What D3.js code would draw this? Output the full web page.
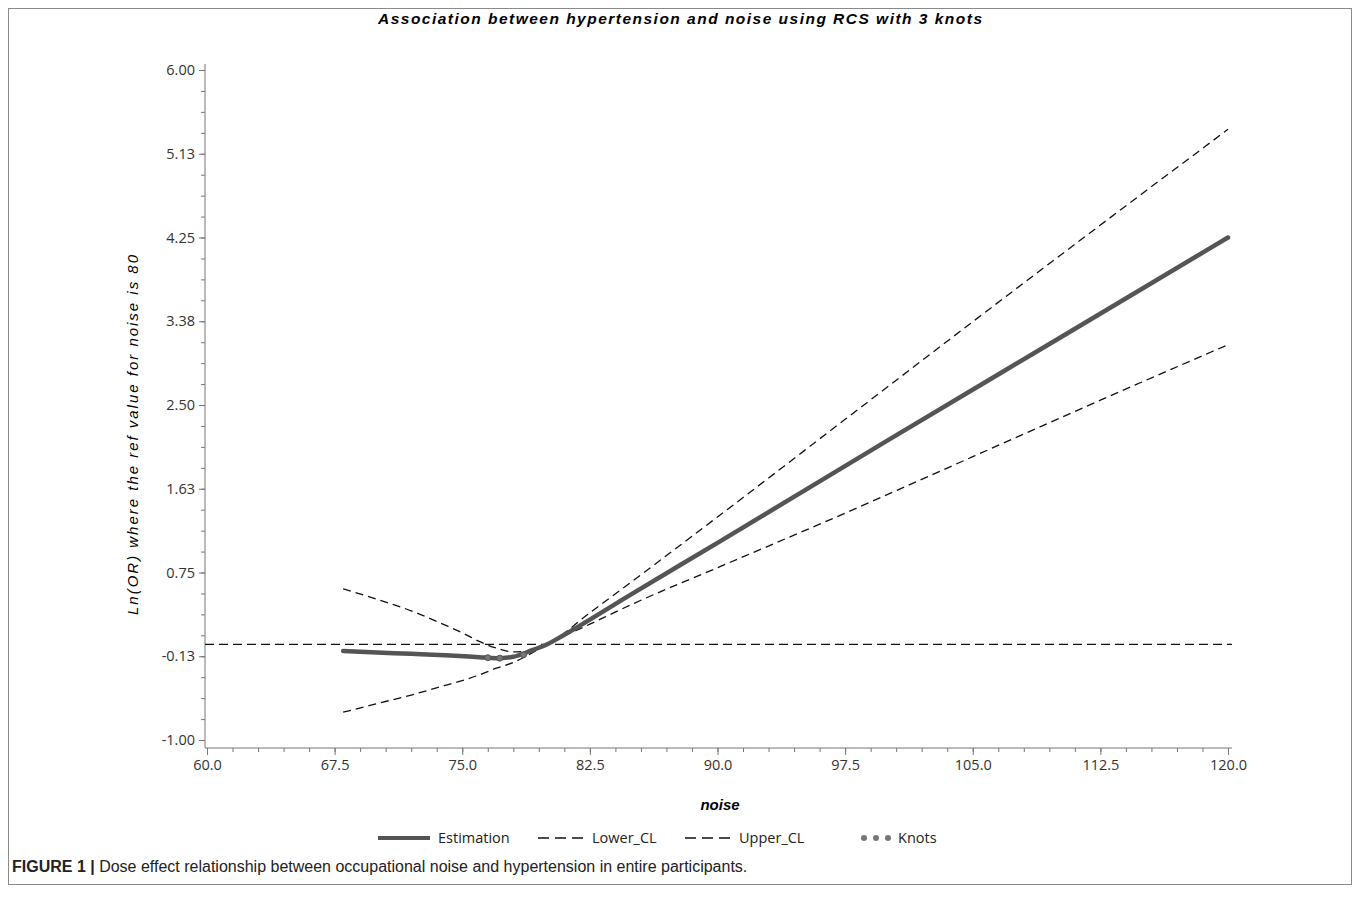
<!DOCTYPE html>
<html><head><meta charset="utf-8">
<script src="https://cdn.jsdelivr.net/npm/d3@7"></script>
<style>
body{margin:0;background:#fff;}
svg{display:block;}
</style></head>
<body>
<svg id="chart" width="1360" height="918"></svg>
<script>
// ---- data ----
const xTicks = [60, 67.5, 75, 82.5, 90, 97.5, 105, 112.5, 120];
const xTickLabels = ["60.0","67.5","75.0","82.5","90.0","97.5","105.0","112.5","120.0"];
const yTicks = [-1, -0.125, 0.75, 1.625, 2.5, 3.375, 4.25, 5.125, 6];
const yTickLabels = ["-1.00","-0.13","0.75","1.63","2.50","3.38","4.25","5.13","6.00"];
const noiseEst = [68, 70, 72, 74, 76, 77, 78, 79, 80, 81, 85, 90, 100, 110, 120];
const estimation = [-0.07, -0.085, -0.10, -0.115, -0.135, -0.145, -0.13, -0.07, 0, 0.10, 0.53, 1.06, 2.13, 3.19, 4.25];
const noiseCL = [68, 70, 72, 74, 75, 76, 77, 78, 79, 80, 82.5, 85, 90, 97.5, 105, 112.5, 120];
const upperCL = [0.58, 0.47, 0.35, 0.20, 0.12, 0.03, -0.04, -0.08, -0.07, 0, 0.33, 0.66, 1.33, 2.35, 3.37, 4.38, 5.38];
const lowerCL = [-0.71, -0.62, -0.53, -0.43, -0.38, -0.32, -0.25, -0.19, -0.10, 0, 0.21, 0.42, 0.80, 1.37, 1.96, 2.55, 3.13];
const knotX = [76.5, 77.2, 78.6];
const knotY = [-0.14, -0.145, -0.11];
const refValue = 0;

const svg = d3.select("#chart");
const x = d3.scaleLinear().domain([60, 120]).range([207, 1228]);
const y = d3.scaleLinear().domain([-1, 6]).range([740, 70]);

// frame
svg.append("rect").attr("x", 8.5).attr("y", 8.5).attr("width", 1343).attr("height", 876)
  .attr("fill", "none").attr("stroke", "#8a8a8a").attr("stroke-width", 1);

// title
svg.append("text").attr("x", 680).attr("y", 24).attr("text-anchor", "middle")
  .attr("font-family", "Liberation Sans, Arial, sans-serif").attr("font-size", 15.5)
  .attr("font-weight", "bold").attr("font-style", "italic")
  .attr("textLength", 604).attr("lengthAdjust", "spacing")
  .text("Association between hypertension and noise using RCS with 3 knots");

const axisColor = "#777";
const tickFont = "Open Sans, DejaVu Sans, sans-serif";

// y axis
const yAxisG = svg.append("g").attr("transform", "translate(205,0)");
const yMinor = d3.range(0, 33).map(i => -1 + i * 0.21875);
yAxisG.append("g").call(d3.axisLeft(y).tickValues(yMinor).tickSize(4).tickFormat(""))
  .call(g => g.select(".domain").remove());
yAxisG.append("g").call(d3.axisLeft(y).tickValues(yTicks).tickSize(6)
    .tickFormat((d, i) => yTickLabels[i]).tickPadding(4))
  .call(g => g.select(".domain").remove());
yAxisG.append("line").attr("x1", 0).attr("x2", 0).attr("y1", 64).attr("y2", 748);
yAxisG.selectAll("line").attr("stroke", axisColor);
yAxisG.selectAll("text").attr("font-family", tickFont).attr("font-size", 14.5).attr("fill", "#333");

// x axis
const xAxisG = svg.append("g").attr("transform", "translate(0,748)");
const xMinor = d3.range(0, 41).map(i => 60 + i * 1.5);
xAxisG.append("g").call(d3.axisBottom(x).tickValues(xMinor).tickSize(4).tickFormat(""))
  .call(g => g.select(".domain").remove());
xAxisG.append("g").call(d3.axisBottom(x).tickValues(xTicks).tickSize(7)
    .tickFormat((d, i) => xTickLabels[i]).tickPadding(5))
  .call(g => g.select(".domain").remove());
xAxisG.append("line").attr("x1", 205).attr("x2", 1232).attr("y1", 0).attr("y2", 0);
xAxisG.selectAll("line").attr("stroke", axisColor);
xAxisG.selectAll("text").attr("font-family", tickFont).attr("font-size", 14.5).attr("fill", "#333");

// axis titles
svg.append("text").attr("transform", "translate(138,435) rotate(-90)").attr("text-anchor", "middle")
  .attr("font-family", "Liberation Sans, Arial, sans-serif").attr("font-size", 15)
  .attr("font-style", "italic").attr("textLength", 360).attr("lengthAdjust", "spacing")
  .text("Ln(OR) where the ref value for noise is 80");
svg.append("text").attr("x", 720).attr("y", 810).attr("text-anchor", "middle")
  .attr("font-family", "Liberation Sans, Arial, sans-serif").attr("font-size", 15)
  .attr("font-weight", "bold").attr("font-style", "italic").text("noise");

// reference line
svg.append("line").attr("x1", 205).attr("x2", 1232).attr("y1", y(refValue)).attr("y2", y(refValue))
  .attr("stroke", "#111").attr("stroke-width", 1.2).attr("stroke-dasharray", "9,5");

const line = d3.line().curve(d3.curveMonotoneX);
const estPts = noiseEst.map((v, i) => [x(v), y(estimation[i])]);
const upPts = noiseCL.map((v, i) => [x(v), y(upperCL[i])]);
const loPts = noiseCL.map((v, i) => [x(v), y(lowerCL[i])]);

svg.append("path").attr("d", line(loPts)).attr("fill", "none").attr("stroke", "#111")
  .attr("stroke-width", 1.3).attr("stroke-dasharray", "8,5");
svg.append("path").attr("d", line(upPts)).attr("fill", "none").attr("stroke", "#111")
  .attr("stroke-width", 1.3).attr("stroke-dasharray", "8,5");
svg.append("path").attr("d", line(estPts)).attr("fill", "none").attr("stroke", "#555")
  .attr("stroke-width", 4.5).attr("stroke-linecap", "round");

svg.append("g").selectAll("circle").data(knotX).join("circle")
  .attr("cx", d => x(d)).attr("cy", (d, i) => y(knotY[i])).attr("r", 3)
  .attr("fill", "#777").attr("stroke", "#555");

// legend
const lg = svg.append("g").attr("font-family", tickFont).attr("font-size", 14.5).attr("fill", "#222");
const ly = 838;
lg.append("line").attr("x1", 378).attr("x2", 430).attr("y1", ly).attr("y2", ly)
  .attr("stroke", "#555").attr("stroke-width", 4);
lg.append("text").attr("x", 438).attr("y", ly + 5).text("Estimation");
lg.append("line").attr("x1", 538).attr("x2", 584).attr("y1", ly).attr("y2", ly)
  .attr("stroke", "#111").attr("stroke-width", 1.3).attr("stroke-dasharray", "11,6");
lg.append("text").attr("x", 592).attr("y", ly + 5).text("Lower_CL");
lg.append("line").attr("x1", 685).attr("x2", 731).attr("y1", ly).attr("y2", ly)
  .attr("stroke", "#111").attr("stroke-width", 1.3).attr("stroke-dasharray", "11,6");
lg.append("text").attr("x", 739).attr("y", ly + 5).text("Upper_CL");
lg.selectAll("circle.k").data([864, 876, 888]).join("circle").attr("class", "k")
  .attr("cx", d => d).attr("cy", ly).attr("r", 3).attr("fill", "#777");
lg.append("text").attr("x", 898).attr("y", ly + 5).text("Knots");

// caption
const cap = svg.append("text").attr("x", 12).attr("y", 872)
  .attr("font-family", "Liberation Sans, Arial, sans-serif").attr("font-size", 16).attr("fill", "#222");
cap.append("tspan").attr("font-weight", "bold").text("FIGURE 1 | ");
cap.append("tspan").text("Dose effect relationship between occupational noise and hypertension in entire participants.");
</script>
</body></html>
